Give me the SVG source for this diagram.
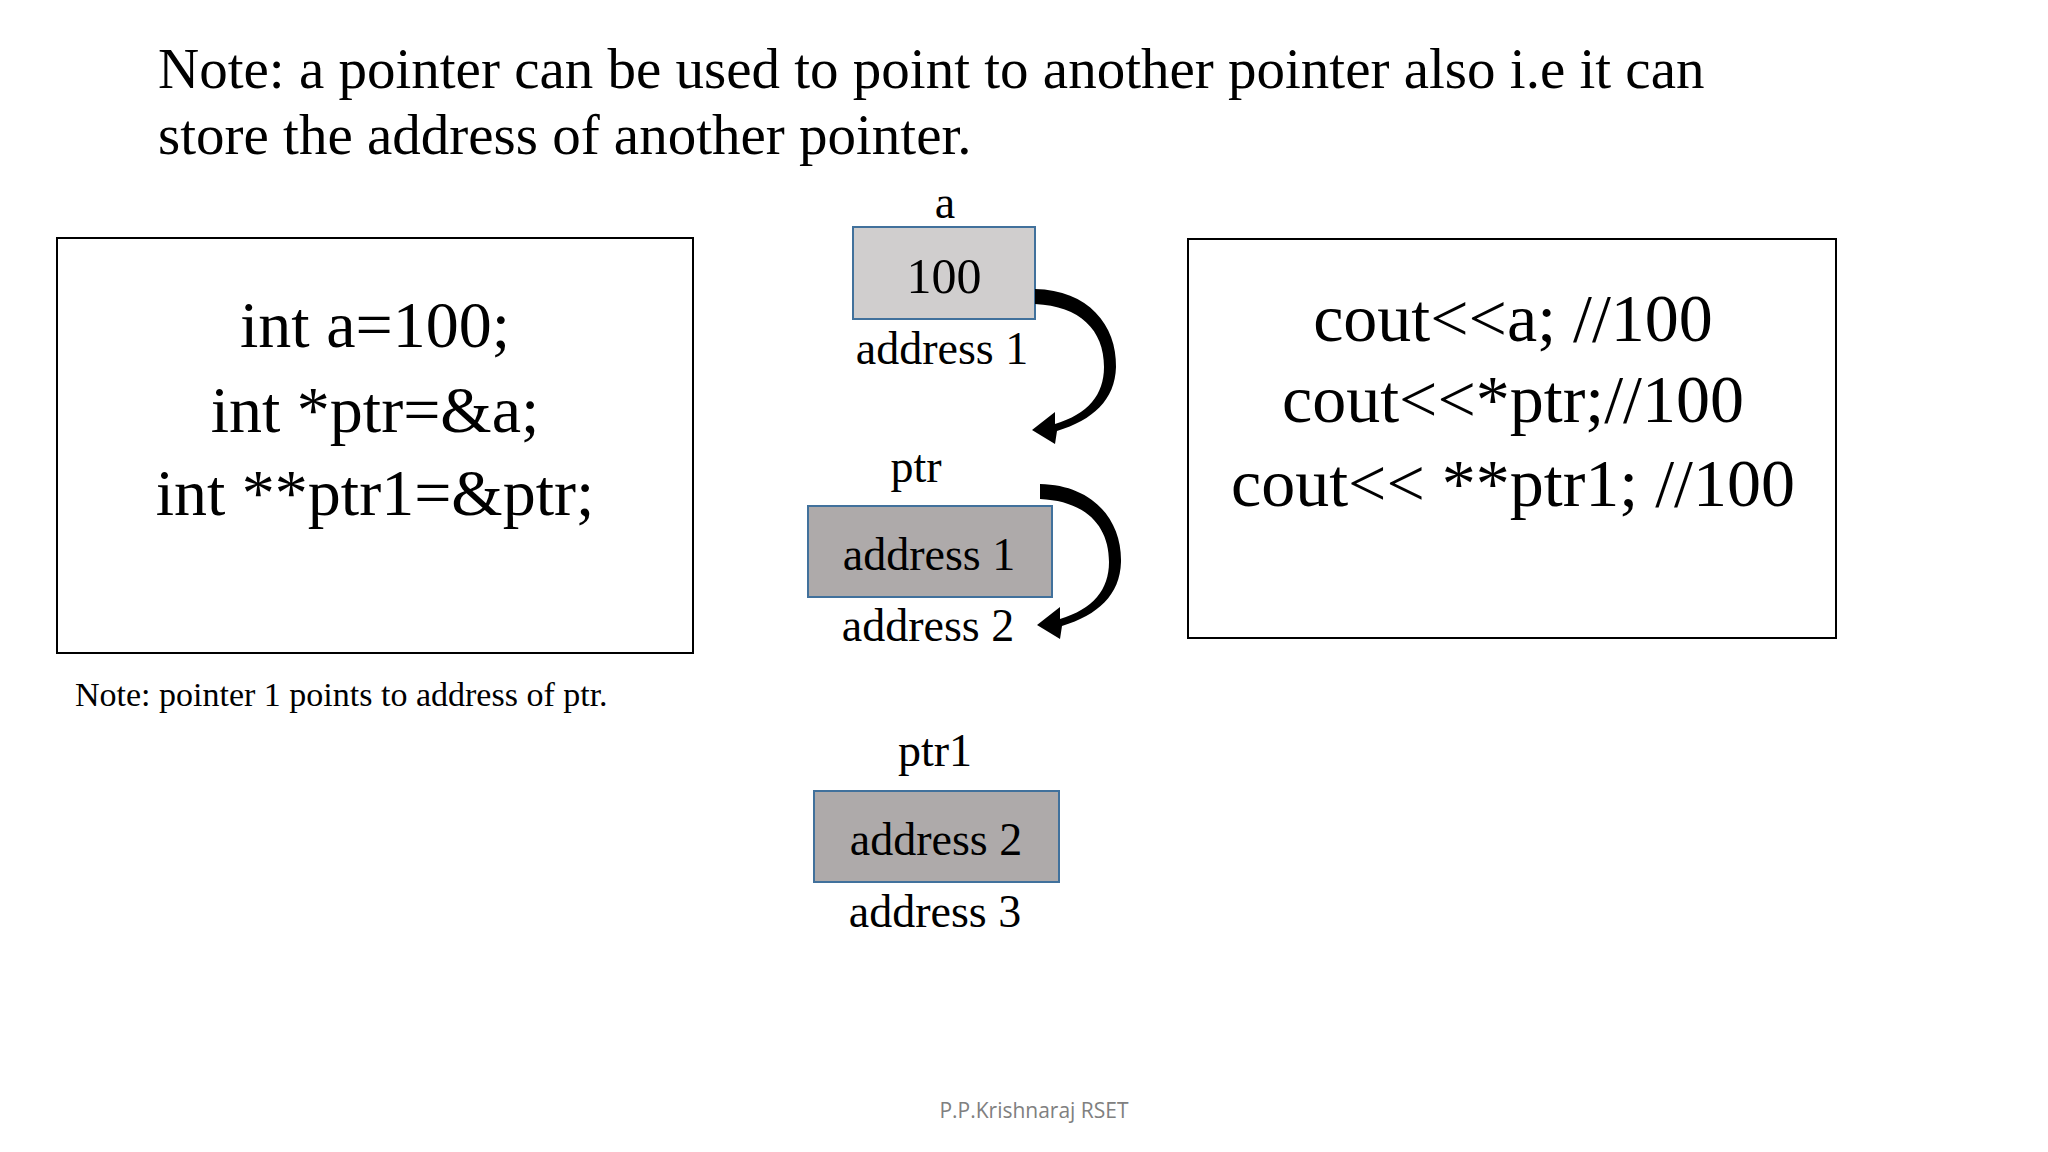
<svg xmlns="http://www.w3.org/2000/svg" width="2048" height="1152" viewBox="0 0 2048 1152">
<style>
.t{font-family:"Liberation Serif",serif;fill:#000}
.c{text-anchor:middle}
.frame{fill:#fff;stroke:#000;stroke-width:2}
.cell{stroke:#41719c;stroke-width:2}
.arr{fill:#000}
</style>
<rect width="2048" height="1152" fill="#fff"/>
<text class="t" x="158" y="88" font-size="57">Note: a pointer can be used to point to another pointer also i.e it can</text>
<text class="t" x="158" y="154" font-size="57">store the address of another pointer.</text>
<g id="code">
<rect class="frame" x="57" y="238" width="636" height="415"/>
<text class="t c" x="375" y="347" font-size="66">int a=100;</text>
<text class="t c" x="375" y="432" font-size="66">int *ptr=&amp;a;</text>
<text class="t c" x="375" y="515" font-size="66">int **ptr1=&amp;ptr;</text>
</g>
<text class="t" x="75" y="706" font-size="34">Note: pointer 1 points to address of ptr.</text>
<g id="a">
<text class="t c" x="945" y="218" font-size="46">a</text>
<rect class="cell" x="853" y="227" width="182" height="92" fill="#d0cece"/>
<text class="t c" x="944" y="293" font-size="50">100</text>
<text class="t c" x="942" y="364" font-size="46">address 1</text>
</g>
<g id="ptr">
<text class="t c" x="916" y="482" font-size="46">ptr</text>
<rect class="cell" x="808" y="506" width="244" height="91" fill="#aeaaaa"/>
<text class="t c" x="929" y="570" font-size="46">address 1</text>
<text class="t c" x="928" y="641" font-size="46">address 2</text>
</g>
<g id="ptr1">
<text class="t c" x="935" y="766" font-size="46">ptr1</text>
<rect class="cell" x="814" y="791" width="245" height="91" fill="#aeaaaa"/>
<text class="t c" x="936" y="855" font-size="46">address 2</text>
<text class="t c" x="935" y="927" font-size="46">address 3</text>
</g>
<g id="out">
<rect class="frame" x="1188" y="239" width="648" height="399"/>
<text class="t c" x="1513" y="341" font-size="68">cout&lt;&lt;a; //100</text>
<text class="t c" x="1513" y="422" font-size="68">cout&lt;&lt;*ptr;//100</text>
<text class="t c" x="1513" y="506" font-size="68">cout&lt;&lt; **ptr1; //100</text>
</g>
<g id="connectors">
<path id="ar1" class="arr" d="M1035,289 C1088,290 1117,325 1116,367 C1115,400 1093,420 1057,431 L1055,444 L1032,430 L1055,412 L1055,424 C1088,414 1104,395 1104,367 C1104,330 1080,306 1035,304 Z"/>
<path class="arr" transform="translate(5,195)" d="M1035,289 C1088,290 1117,325 1116,367 C1115,400 1093,420 1057,431 L1055,444 L1032,430 L1055,412 L1055,424 C1088,414 1104,395 1104,367 C1104,330 1080,306 1035,304 Z"/>
</g>
<text x="1034" y="1118" font-size="21" fill="#808080" font-family="'Open Sans','Liberation Sans',sans-serif" text-anchor="middle">P.P.Krishnaraj RSET</text>
</svg>
